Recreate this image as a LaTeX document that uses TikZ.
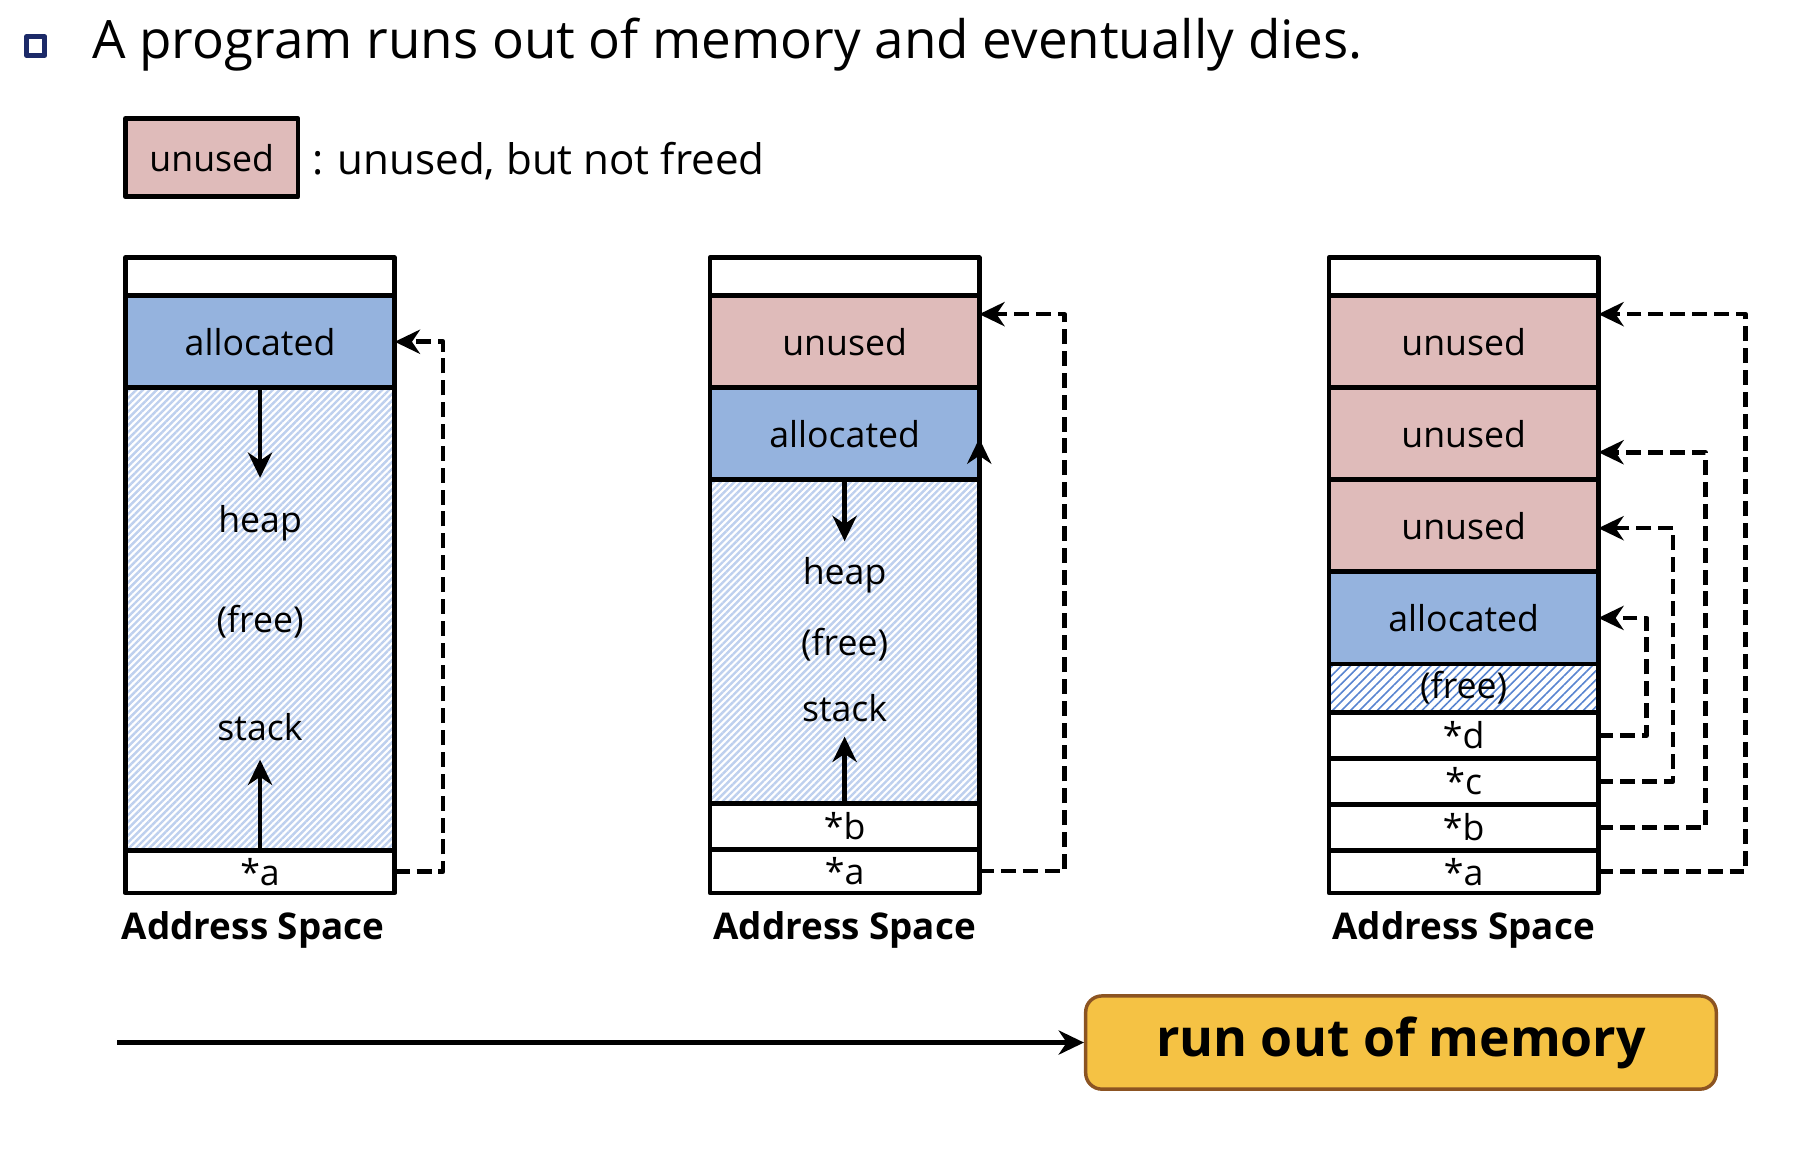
\documentclass[tikz,border=0pt]{standalone}
\usepackage{fontspec}
\setmainfont{Open Sans}
\usetikzlibrary{positioning,arrows.meta,patterns.meta}
\definecolor{allocblue}{RGB}{149,179,222}
\definecolor{unusedpink}{RGB}{223,187,186}
\definecolor{hatchlight}{RGB}{190,208,238}
\definecolor{hatchdark}{RGB}{88,132,208}
\definecolor{bulletnavy}{RGB}{28,42,104}
\definecolor{oomyellow}{RGB}{245,194,68}
\definecolor{oombrown}{RGB}{140,84,34}
\begin{document}
\begin{tikzpicture}[>={Stealth[length=22pt,width=21pt,inset=7pt]},line join=round,x=1pt,y=-1pt,
    cell/.style={draw,line width=4.2pt,minimum width=234pt,inner sep=0pt,outer sep=0pt,anchor=north west,font=\fontsize{31}{31}\selectfont},
    alloc/.style={cell,fill=allocblue},
    unused/.style={cell,fill=unusedpink},
    freemem/.style={cell,pattern={Lines[angle=45,distance=4.2pt,line width=2.1pt]},pattern color=hatchlight},
    freesmall/.style={cell,pattern={Lines[angle=45,distance=5.5pt,line width=1.4pt]},pattern color=hatchdark},
    lbl/.style={inner sep=0pt,font=\fontsize{31}{31}\selectfont},
    caption/.style={inner sep=0pt,font=\fontsize{32}{32}\selectfont\bfseries},
    growarrow/.style={->,line width=4pt},
    ptr/.style={->,line width=4pt,dash pattern=on 13pt off 6pt}]
    \useasboundingbox (0,0) rectangle (1566,997.7);
    % title and legend
    \node[draw=bulletnavy,line width=4.5pt,minimum size=16pt,inner sep=0pt] (bullet) at (31,40) {};
    \node[anchor=base west,inner sep=0pt,font=\fontsize{46}{46}\selectfont] (title) at (80,51) {A program runs out of memory and eventually dies.};
    \node[unused,minimum width=150pt,minimum height=68pt] (legend) at (109,103) {unused};
    \node[anchor=base west,inner sep=0pt,font=\fontsize{36.6}{36.6}\selectfont] (legtxt) at ([xshift=12pt,yshift=-3pt]legend.base east) {: unused, but not freed};
    % left address space
    \node[cell,minimum height=33pt] (ltop) at (109,224) {};
    \node[alloc,minimum height=80pt] (lalloc) at (109,257) {allocated};
    \node[freemem,minimum height=402pt] (lfree) at (109,337) {};
    \node[cell,minimum height=37pt] (la) at (109,739) {*a};
    \node[lbl] (lheap) at (226,455) {heap};
    \node[lbl] (lfr) at (226,540) {(free)};
    \node[lbl] (lstack) at (226,632) {stack};
    \draw[growarrow,shorten >=24pt] (lalloc.south) -- (lheap.north);
    \draw[growarrow,shorten >=16pt] (la.north) -- (lstack.south);
    \draw[ptr] (la.east) -- ++(42,0) |- (lalloc.east);
    \node[caption,below=16pt of la,xshift=-6pt] (lcap) {Address Space};
    % middle address space
    \node[cell,minimum height=33pt] (mtop) at (617,224) {};
    \node[unused,minimum height=80pt] (munused) at (617,257) {unused};
    \node[alloc,minimum height=80pt] (malloc) at (617,337) {allocated};
    \node[freemem,minimum height=281pt] (mfree) at (617,417) {};
    \node[cell,minimum height=40pt] (mb) at (617,698) {*b};
    \node[cell,minimum height=38pt] (ma) at (617,738) {*a};
    \node[lbl] (mheap) at (734,500) {heap};
    \node[lbl] (mfr) at (734,560) {(free)};
    \node[lbl] (mstack) at (734,615) {stack};
    \draw[growarrow,shorten >=14pt] (malloc.south) -- (mheap.north);
    \draw[growarrow,shorten >=13pt] (mb.north) -- (mstack.south);
    \draw[growarrow] (mb.east) -- ([yshift=-4pt]malloc.east);
    \draw[ptr] (ma.east) -- ++(74,0) |- ([yshift=24pt]munused.east);
    \node[caption,below=16pt of ma] (mcap) {Address Space};
    % right address space
    \node[cell,minimum height=33pt] (rtop) at (1155,224) {};
    \node[unused,minimum height=80pt] (ru1) at (1155,257) {unused};
    \node[unused,minimum height=80pt] (ru2) at (1155,337) {unused};
    \node[unused,minimum height=80pt] (ru3) at (1155,417) {unused};
    \node[alloc,minimum height=80pt] (ralloc) at (1155,497) {allocated};
    \node[freesmall,minimum height=42pt] (rfree) at (1155,577) {(free)};
    \node[cell,minimum height=40pt] (rd) at (1155,619) {*d};
    \node[cell,minimum height=40pt] (rc) at (1155,659) {*c};
    \node[cell,minimum height=40pt] (rb) at (1155,699) {*b};
    \node[cell,minimum height=37pt] (ra) at (1155,739) {*a};
    \foreach \src/\dst/\dx/\dy in {ra/ru1/128/24,rb/ru2/93/-16,rc/ru3/65/-2,rd/ralloc/42/0}
        \draw[ptr] (\src.east) -- ++(\dx,0) |- ([yshift=\dy pt]\dst.east);
    \node[caption,below=16pt of ra] (rcap) {Address Space};
    % run out of memory
    \node[draw=oombrown,fill=oomyellow,line width=3pt,rounded corners=14pt,minimum width=548pt,minimum height=81pt,inner sep=0pt,font=\fontsize{45}{45}\selectfont\bfseries] (oom) at (1217.5,906) {run out of memory};
    \coordinate (tstart) at (102,906);
    \draw[growarrow] (tstart) -- (oom.west);
\end{tikzpicture}
\end{document}
